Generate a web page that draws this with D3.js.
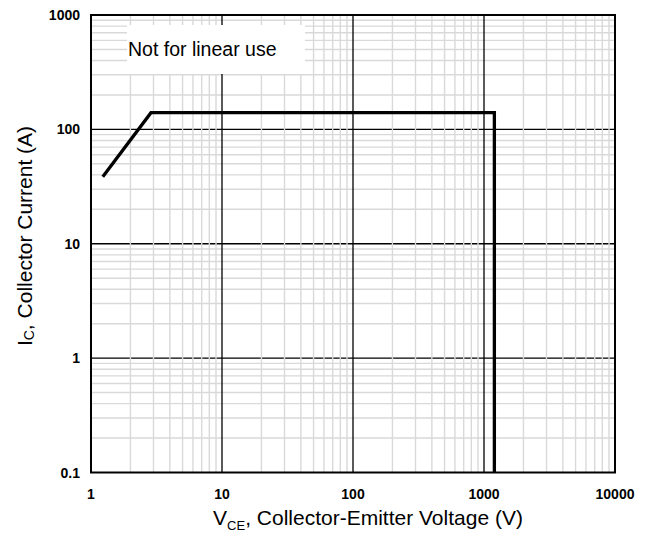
<!DOCTYPE html>
<html>
<head>
<meta charset="utf-8">
<script src="https://cdn.jsdelivr.net/npm/d3@7"></script>
<style>
  html, body { margin: 0; padding: 0; background: #fff; }
  svg { display: block; font-family: Arial, "Liberation Sans", sans-serif; }
</style>
</head>
<body>
<svg id="chart" width="654" height="544"></svg>
<script>
// Safe operating area boundary (V_CE in volts, I_C in amps)
const soaVoltage = [1.23, 2.87, 1200, 1200];
const soaCurrent = [38.5, 140, 140, 0.1];

const xTickValues = [1, 10, 100, 1000, 10000];
const xTickLabels = ["1", "10", "100", "1000", "10000"];
const yTickValues = [0.1, 1, 10, 100, 1000];
const yTickLabels = ["0.1", "1", "10", "100", "1000"];

const noteText = "Not for linear use";
const xTitleMain = "V";
const xTitleSub = "CE";
const xTitleRest = ", Collector-Emitter Voltage (V)";
const yTitleMain = "I";
const yTitleSub = "C";
const yTitleRest = ", Collector Current (A)";

const svg = d3.select("#chart");
const plotL = 91, plotR = 615, plotT = 15, plotB = 472.5;

const x = d3.scaleLog().domain([1, 10000]).range([plotL, plotR]);
const y = d3.scaleLog().domain([0.1, 1000]).range([plotB, plotT]);

// minor grid values: 2..9 within each decade
function minorValues(lo, hi) {
  const out = [];
  for (let d = lo; d < hi; d *= 10) {
    for (let k = 2; k <= 9; k++) out.push(d * k);
  }
  return out;
}
const xMinor = minorValues(1, 10000);
const yMinor = minorValues(0.1, 1000);
const xMajor = xTickValues.slice(1, -1);
const yMajor = yTickValues.slice(1, -1);

const grid = svg.append("g");
const gray = "#d9d9d9";

// horizontal minor
grid.append("g").selectAll("line").data(yMinor).join("line")
  .attr("x1", plotL).attr("x2", plotR)
  .attr("y1", d => y(d)).attr("y2", d => y(d))
  .attr("stroke", gray).attr("stroke-width", 1.4);
// horizontal major
grid.append("g").selectAll("line").data(yMajor).join("line")
  .attr("x1", plotL).attr("x2", plotR)
  .attr("y1", d => y(d)).attr("y2", d => y(d))
  .attr("stroke", "#000").attr("stroke-width", 1.3);
// vertical minor
grid.append("g").selectAll("line").data(xMinor).join("line")
  .attr("y1", plotT).attr("y2", plotB)
  .attr("x1", d => x(d)).attr("x2", d => x(d))
  .attr("stroke", gray).attr("stroke-width", 1.4);
// vertical major
grid.append("g").selectAll("line").data(xMajor).join("line")
  .attr("y1", plotT).attr("y2", plotB)
  .attr("x1", d => x(d)).attr("x2", d => x(d))
  .attr("stroke", "#000").attr("stroke-width", 1.3);

// note box
svg.append("rect")
  .attr("x", 127).attr("y", 25).attr("width", 178).attr("height", 49)
  .attr("fill", "#fff");
svg.append("text")
  .attr("x", 128).attr("y", 56)
  .attr("font-size", 19.5).attr("fill", "#000")
  .text(noteText);

// SOA curve
const pts = soaVoltage.map((v, i) => [v, soaCurrent[i]]);
svg.append("path")
  .attr("d", d3.line().x(d => x(d[0])).y(d => y(d[1]))(pts))
  .attr("fill", "none").attr("stroke", "#000").attr("stroke-width", 3.3)
  .attr("stroke-linejoin", "miter");

// frame
svg.append("rect")
  .attr("x", plotL).attr("y", plotT).attr("width", plotR - plotL).attr("height", plotB - plotT)
  .attr("fill", "none").attr("stroke", "#000").attr("stroke-width", 2);

// tick labels
svg.append("g").selectAll("text").data(xTickValues).join("text")
  .attr("x", d => x(d)).attr("y", 499)
  .attr("text-anchor", "middle").attr("font-weight", "bold").attr("font-size", 14)
  .text((d, i) => xTickLabels[i]);
svg.append("g").selectAll("text").data(yTickValues).join("text")
  .attr("x", 80).attr("y", d => y(d) + 5)
  .attr("text-anchor", "end").attr("font-weight", "bold").attr("font-size", 14)
  .text((d, i) => yTickLabels[i]);

// axis titles
const xt = svg.append("text")
  .attr("x", 368).attr("y", 525)
  .attr("text-anchor", "middle").attr("font-size", 21);
xt.append("tspan").text(xTitleMain);
xt.append("tspan").attr("font-size", 13).attr("dy", 5).text(xTitleSub);
xt.append("tspan").attr("dy", -5).text(xTitleRest);

const yt = svg.append("text")
  .attr("transform", "translate(32,236) rotate(-90)")
  .attr("text-anchor", "middle").attr("font-size", 21);
yt.append("tspan").text(yTitleMain);
yt.append("tspan").attr("font-size", 14).attr("dy", 2).text(yTitleSub);
yt.append("tspan").attr("dy", -2).text(yTitleRest);
</script>
</body>
</html>
